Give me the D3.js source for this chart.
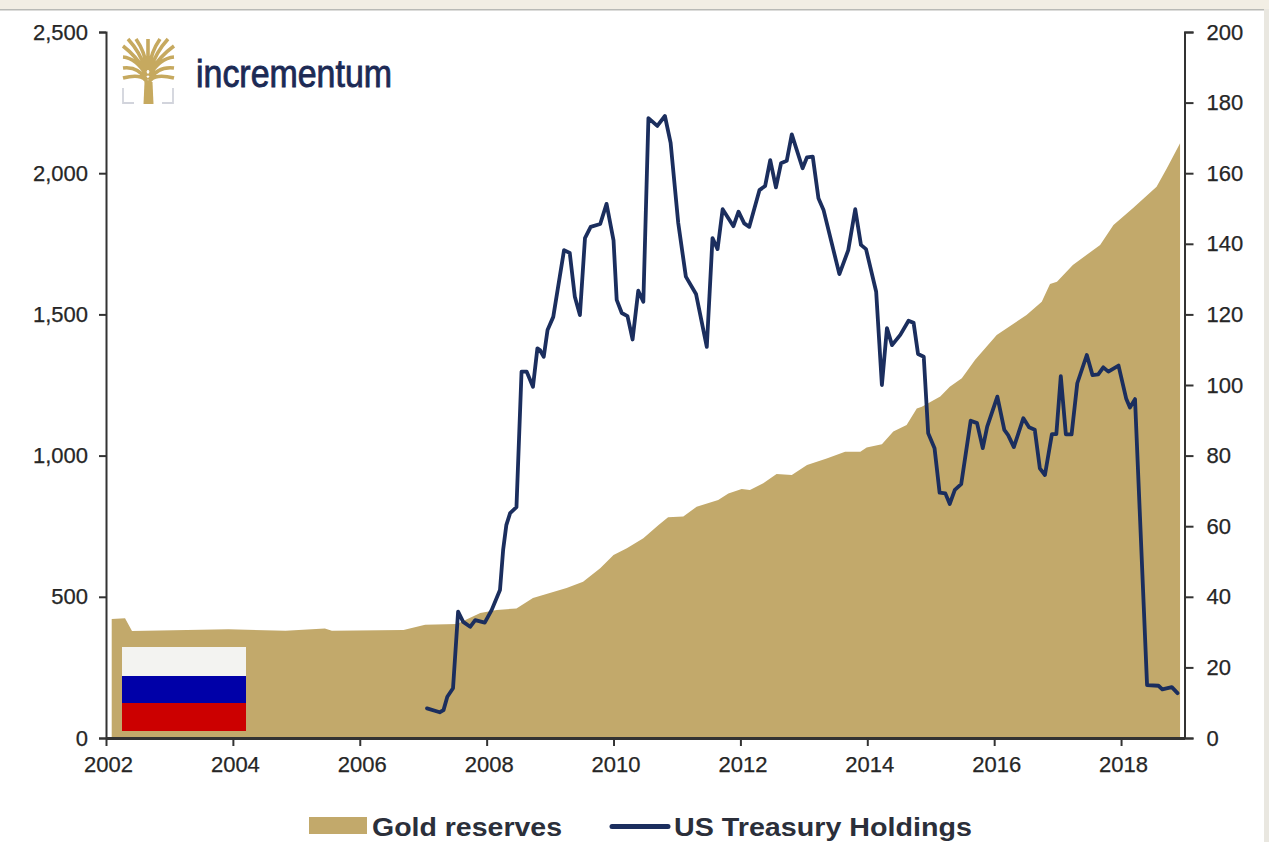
<!DOCTYPE html>
<html>
<head>
<meta charset="utf-8">
<script src="https://cdn.jsdelivr.net/npm/d3@7/dist/d3.min.js"></script>
<style>
  html, body { margin: 0; padding: 0; background: #fff; overflow: hidden; }
  svg { display: block; font-family: "Liberation Sans", Arial, sans-serif; }
  .axis path, .axis line { stroke: #333; }
  .axis path { stroke-width: 2; fill: none; }
  .axis line { stroke-width: 2; }
  .axis text { font-size: 22px; fill: #262626; stroke: #262626; stroke-width: 0.25px; }
</style>
</head>
<body>
<svg id="chart" width="1269" height="842"></svg>
<script>
// Gold reserves (tonnes, left axis)
const goldDates = [2002.09,2002.30,2002.41,2003.93,2004.83,2005.45,2005.56,2006.69,2007.03,2007.53,2007.90,2008.16,2008.47,2008.73,2009.26,2009.52,2009.79,2010.00,2010.21,2010.47,2010.71,2010.86,2011.10,2011.31,2011.65,2011.81,2012.02,2012.15,2012.36,2012.57,2012.81,2013.05,2013.36,2013.65,2013.89,2013.99,2014.23,2014.41,2014.62,2014.78,2014.86,2015.15,2015.30,2015.49,2015.70,2016.04,2016.51,2016.75,2016.88,2016.99,2017.24,2017.67,2017.88,2018.19,2018.56,2018.72,2018.93];
const goldValues = [421,424,379,385,380,388,380,382,401,404,443,453,459,496,531,553,601,648,672,707,754,782,784,819,843,866,882,878,902,935,931,967,990,1014,1014,1029,1040,1085,1108,1167,1173,1209,1244,1274,1339,1427,1498,1545,1608,1616,1675,1746,1817,1877,1952,2017,2106];

// US Treasury holdings (USD bn, right axis)
const treasuryDates = [2007.06,2007.26,2007.32,2007.38,2007.47,2007.55,2007.63,2007.74,2007.82,2007.97,2008.08,2008.21,2008.26,2008.31,2008.37,2008.47,2008.55,2008.63,2008.73,2008.80,2008.84,2008.90,2008.96,2009.05,2009.22,2009.31,2009.39,2009.47,2009.55,2009.64,2009.79,2009.89,2010.00,2010.05,2010.13,2010.22,2010.30,2010.39,2010.47,2010.55,2010.69,2010.81,2010.90,2011.02,2011.14,2011.30,2011.47,2011.56,2011.64,2011.72,2011.89,2011.97,2012.06,2012.14,2012.30,2012.39,2012.47,2012.56,2012.64,2012.73,2012.81,2012.98,2013.05,2013.14,2013.23,2013.31,2013.56,2013.70,2013.81,2013.90,2013.98,2014.14,2014.23,2014.31,2014.39,2014.52,2014.65,2014.73,2014.80,2014.89,2014.96,2015.06,2015.14,2015.23,2015.30,2015.38,2015.48,2015.63,2015.73,2015.82,2015.89,2016.05,2016.16,2016.22,2016.31,2016.46,2016.55,2016.64,2016.72,2016.80,2016.91,2016.98,2017.05,2017.13,2017.22,2017.31,2017.46,2017.55,2017.64,2017.72,2017.80,2017.96,2018.08,2018.14,2018.22,2018.41,2018.59,2018.65,2018.80,2018.89];
const treasuryValues = [8.4,7.3,7.9,11.7,14.1,35.8,32.9,31.5,33.4,32.7,36.3,41.9,53.3,60.3,63.7,65.4,103.8,103.8,99.5,110.4,109.9,108,115.6,119.3,138.2,137.4,125,119.8,141.6,144.8,145.6,151.3,141,124.1,120.4,119.5,112.9,126.7,123.6,175.6,173.4,176.2,168.6,145.9,130.7,125.8,110.8,141.6,138.5,149.8,145,149.1,145.8,144.8,155.2,156.4,163.7,156,162.8,163.5,171,161.4,164.5,164.7,152.9,149.6,131.4,138.2,149.8,139.7,138.5,126.4,100,116.1,111.3,114.2,118.2,117.6,108.8,108,86.3,82.1,69.5,69.3,66.3,70.3,71.9,89.9,89.2,82.1,88.2,96.7,87.3,85.8,82.4,90.6,88,87.3,76.4,74.5,86.1,86.1,102.5,86,86,100.5,108.5,102.8,103,105,103.8,105.5,96.2,93.6,96,15,14.8,13.8,14.4,12.7];

const xTicks = [2002,2004,2006,2008,2010,2012,2014,2016,2018];
const leftTicks = [0,500,1000,1500,2000,2500];
const rightTicks = [0,20,40,60,80,100,120,140,160,180,200];
const legendLabels = ["Gold reserves", "US Treasury Holdings"];
const brandName = "incrementum";

const GOLD = "#c2a96b", NAVY = "#1b2e5e";

const svg = d3.select("#chart");
const x = d3.scaleLinear().domain([2002, 2019]).range([106, 1184.5]);
const yLeft = d3.scaleLinear().domain([0, 2500]).range([738, 32]);
const yRight = d3.scaleLinear().domain([0, 200]).range([738, 32]);

// Page frame: cream strip above, pale strip on the right
svg.append("rect").attr("width", 1269).attr("height", 9).attr("fill", "#f2eee4");
svg.append("rect").attr("y", 9).attr("width", 1264).attr("height", 1.5).attr("fill", "#b9bab6");
svg.append("rect").attr("x", 1264).attr("y", 9).attr("width", 5).attr("height", 833).attr("fill", "#e9e7e0");

// Gold area
const goldPoints = goldDates.map((d, i) => [d, goldValues[i]]);
svg.append("path")
  .datum(goldPoints)
  .attr("fill", GOLD)
  .attr("d", d3.area().x(d => x(d[0])).y0(yLeft(0)).y1(d => yLeft(d[1])));

// Russian flag inset
const flag = svg.append("g");
[["#f3f3f1", 647, 29], ["#0000a8", 676, 27], ["#cc0000", 703, 28]].forEach(([c, top, h]) => {
  flag.append("rect").attr("x", 122).attr("y", top).attr("width", 124).attr("height", h).attr("fill", c);
});

// Treasury line
const treasuryPoints = treasuryDates.map((d, i) => [d, treasuryValues[i]]);
svg.append("path")
  .datum(treasuryPoints)
  .attr("fill", "none")
  .attr("stroke", NAVY)
  .attr("stroke-width", 3.8)
  .attr("stroke-linejoin", "round")
  .attr("stroke-linecap", "round")
  .attr("d", d3.line().x(d => x(d[0])).y(d => yRight(d[1])));

// Axes
const axisLeft = d3.axisLeft(yLeft).tickValues(leftTicks).tickFormat(d3.format(",")).tickSize(7).tickPadding(11);
const axisRight = d3.axisRight(yRight).tickValues(rightTicks).tickSize(9).tickPadding(13);
const axisBottom = d3.axisBottom(x).tickValues(xTicks).tickFormat(d3.format("d")).tickSize(8).tickSizeOuter(0).tickPadding(10);

svg.append("g").attr("class", "axis").attr("transform", "translate(106,0)").call(axisLeft);
svg.append("g").attr("class", "axis").attr("transform", "translate(1184.5,0)").call(axisRight);
const bottom = svg.append("g").attr("class", "axis").attr("transform", "translate(0,738)").call(axisBottom);
bottom.select("path").style("stroke-width", 3);
bottom.selectAll("text").attr("dx", 2);

// Brand mark: tree in gold inside pale brackets
const logo = svg.append("g");
logo.append("path")
  .attr("d", "M123 88V103H134M173 88V103H162")
  .attr("fill", "none").attr("stroke", "#d2d4dc").attr("stroke-width", 1.8);
logo.append("path")
  .attr("d", "M143.5 104L144.5 82L152.5 82L153.5 104Z")
  .attr("fill", "#c6a95f");
logo.append("path")
  .attr("d", "M148 86Q146 72 123 78M148 86Q150 72 174 78M147 80Q138 66 123 68M149 80Q158 66 174 68M147 76Q136 58 123 57M149 76Q160 58 174 57M146 72Q136 56 123 46M150 72Q160 56 174 46M146 70Q140 52 128 39M150 70Q156 52 168 39M147 68Q145 52 136 39M149 68Q151 52 160 39M148 70V39")
  .attr("fill", "none").attr("stroke", "#c6a95f").attr("stroke-width", 3.6);
logo.append("text")
  .attr("x", 196).attr("y", 87)
  .attr("font-size", 39)
  .attr("textLength", 196).attr("lengthAdjust", "spacingAndGlyphs")
  .attr("fill", "#1c2a55").attr("stroke", "#1c2a55").attr("stroke-width", 0.9)
  .text(brandName);

// Legend
const legend = svg.append("g").attr("font-weight", "bold").attr("fill", "#2b2f3a").attr("font-size", 26);
legend.append("rect").attr("x", 309).attr("y", 817).attr("width", 58).attr("height", 17).attr("fill", GOLD);
legend.append("text").attr("x", 372).attr("y", 835.5)
  .attr("textLength", 190).attr("lengthAdjust", "spacingAndGlyphs").text(legendLabels[0]);
legend.append("line").attr("x1", 612).attr("x2", 668).attr("y1", 826.5).attr("y2", 826.5)
  .attr("stroke", NAVY).attr("stroke-width", 5).attr("stroke-linecap", "round");
legend.append("text").attr("x", 674).attr("y", 835.5)
  .attr("textLength", 298).attr("lengthAdjust", "spacingAndGlyphs").text(legendLabels[1]);
</script>
</body>
</html>
